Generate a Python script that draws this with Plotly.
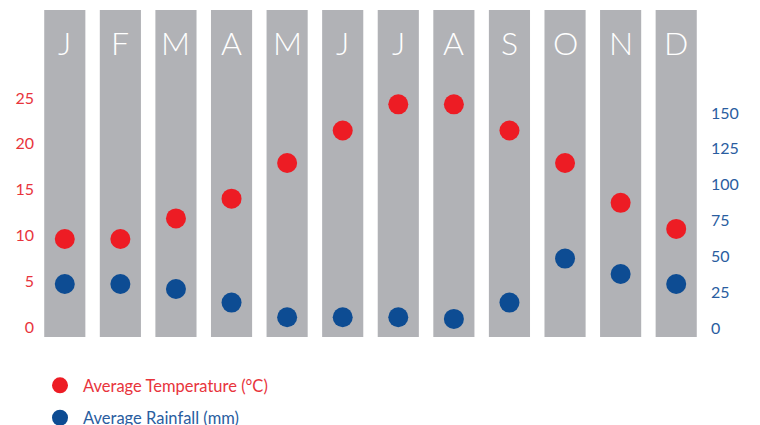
import plotly.graph_objects as go

months = ["Jan", "Feb", "Mar", "Apr", "May", "Jun", "Jul", "Aug", "Sep", "Oct", "Nov", "Dec"]
month_letters = ["J", "F", "M", "A", "M", "J", "J", "A", "S", "O", "N", "D"]
temperature = [9.6, 9.6, 11.85, 14, 17.9, 21.45, 24.3, 24.3, 21.45, 17.9, 13.55, 10.7]
rainfall = [30.7, 30.7, 27.2, 17.7, 7.5, 7.5, 7.5, 6.3, 17.7, 48.4, 37.7, 30.7]
temp_ticks = [0, 5, 10, 15, 20, 25]
rain_ticks = [0, 25, 50, 75, 100, 125, 150]

Y1_RANGE = [-1.1, 34.6]
Y2_RANGE = [-6.3, 221.9]

RED = "#ed1c24"
BLUE = "#0d4c93"
GRAY = "#b1b2b6"
FONT = "Lato"

fig = go.Figure()

fig.add_trace(go.Bar(
    x=months, y=[Y1_RANGE[1] - Y1_RANGE[0]] * len(months), base=Y1_RANGE[0],
    marker=dict(color=GRAY, line=dict(width=0)), width=0.74,
    showlegend=False, hoverinfo="skip", yaxis="y"))

fig.add_trace(go.Scatter(
    x=months, y=temperature, mode="markers",
    name="<span style='color:#e8343c'>Average Temperature (°C)</span>",
    marker=dict(color=RED, size=20), yaxis="y", legendgroup="t"))

fig.add_trace(go.Scatter(
    x=months, y=rainfall, mode="markers",
    name="<span style='color:#2a5d9f'>Average Rainfall (mm)</span>",
    marker=dict(color=BLUE, size=20), yaxis="y2", legendgroup="r"))

for m, letter in zip(months, month_letters):
    fig.add_annotation(x=m, y=0.9, xref="x", yref="paper", text=letter,
                       showarrow=False, font=dict(family=FONT, size=32, color="white", weight=300),
                       xanchor="center", yanchor="middle")

fig.update_layout(
    width=760, height=425,
    margin=dict(l=29, r=64, t=2, b=96, autoexpand=False),
    paper_bgcolor="white", plot_bgcolor="white",
    xaxis=dict(range=[-0.5, 11.5], showticklabels=False, showgrid=False, zeroline=False,
               showline=False, ticks=""),
    yaxis=dict(range=Y1_RANGE, tickvals=temp_ticks, showgrid=False, zeroline=False,
               showline=False, tickfont=dict(family=FONT, size=16, color="#e8343c"),
               ticklabelstandoff=2),
    yaxis2=dict(range=Y2_RANGE, tickvals=rain_ticks, overlaying="y", side="right",
                showgrid=False, zeroline=False, showline=False,
                tickfont=dict(family=FONT, size=16, color="#2a5d9f"), ticklabelstandoff=6),
    legend=dict(x=0.0, y=-0.095, xanchor="left", yanchor="top", orientation="v",
                font=dict(family=FONT, size=16.5), tracegroupgap=8, itemwidth=36,
                bgcolor="rgba(0,0,0,0)"),
    showlegend=True,
)

fig.write_html("out.html")
